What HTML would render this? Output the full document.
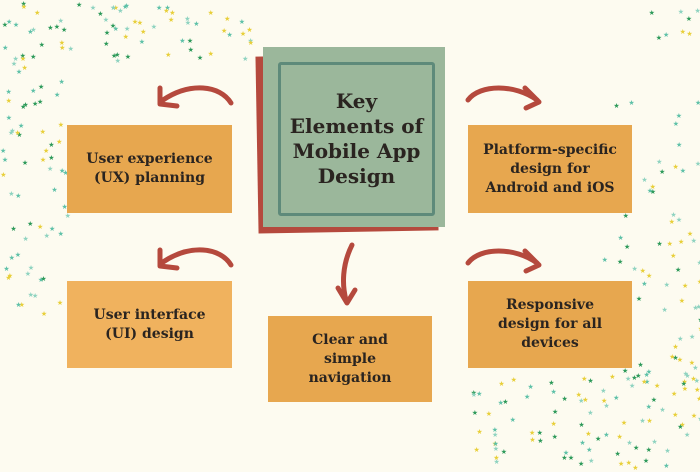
<!DOCTYPE html>
<html><head><style>
body{margin:0;width:700px;height:467px;background:#fdfbf0;position:relative;overflow:hidden;font-family:"DejaVu Serif","Liberation Serif",serif;}
.b{position:absolute;background:#e7a74f;display:flex;align-items:center;justify-content:center;text-align:center;font-weight:bold;font-size:14px;line-height:19px;color:#2a2420;}
.s{position:absolute;font-size:7px;line-height:7px;}
</style></head><body>
<div id="st"></div>
<div style="position:absolute;left:257px;top:55px;width:180px;height:177px;background:#b5493d;transform:rotate(-1deg)"></div>
<div style="position:absolute;left:263px;top:47px;width:182px;height:180px;background:#9bb79b;"></div>
<div style="position:absolute;left:278px;top:62px;width:151px;height:148px;border:3px solid #5e8a7a;border-radius:3px;display:flex;align-items:center;justify-content:center;text-align:center;font-weight:bold;font-size:20px;line-height:25px;color:#2a2420">Key<br>Elements of<br>Mobile App<br>Design</div>
<div class="b" style="left:67px;top:125px;width:165px;height:88px">User experience<br>(UX) planning</div>
<div class="b" style="left:67px;top:281px;width:165px;height:87px;background:#f0b25e">User interface<br>(UI) design</div>
<div class="b" style="left:268px;top:316px;width:164px;height:86px">Clear and<br>simple<br>navigation</div>
<div class="b" style="left:468px;top:125px;width:164px;height:88px">Platform-specific<br>design for<br>Android and iOS</div>
<div class="b" style="left:468px;top:281px;width:164px;height:87px">Responsive<br>design for all<br>devices</div>
<svg width="700" height="467" style="position:absolute;left:0;top:0" fill="none" stroke="#b5493d" stroke-width="5" stroke-linecap="round" stroke-linejoin="round">
<path d="M231,103 C220,85 190,82 163,100"/><path d="M160,88 L160,104 L177,106"/>
<path d="M231,265 C220,247 190,244 163,262"/><path d="M160,250 L160,266 L177,268"/>
<path d="M468,100 C480,84 515,84 537,100"/><path d="M525,88 L539,102 L526,108"/>
<path d="M468,263 C480,247 515,247 537,263"/><path d="M525,251 L539,265 L526,271"/>
<path d="M352,245 C342,265 342,285 346,300"/><path d="M338,288 L347,303 L355,290"/>
</svg>
<script>
var c=["#e8cf3a","#5fc1a8","#2e9a5a","#8fd3c0"],h="",s=7;
function r(){s=(s*9301+49297)%233280;return s/233280;}
function a(x0,y0,w,hh,n){for(var i=0;i<n;i++){var x=x0+r()*w,y=y0+r()*hh;h+='<div class="s" style="left:'+x+'px;top:'+y+'px;color:'+c[Math.floor(r()*4)]+'">★</div>';}}
a(0,0,250,60,70);a(0,60,65,180,45);a(0,240,60,100,15);a(600,100,100,200,50);a(470,370,230,97,90);a(580,280,120,100,40);a(640,0,60,40,8);
document.getElementById('st').innerHTML=h;
</script>
</body></html>
